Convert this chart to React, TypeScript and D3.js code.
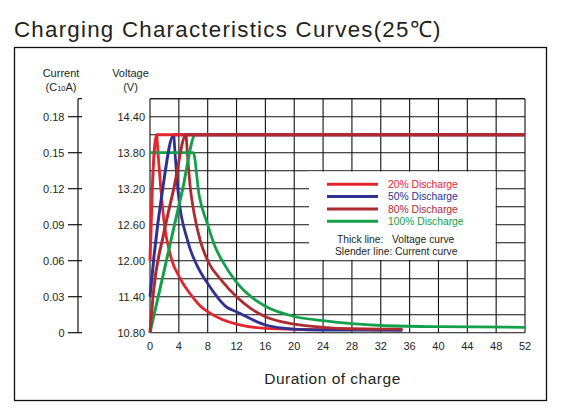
import React from "react";
import * as d3 from "d3";

const W = 561;
const H = 418;

// Tick values
const hourTicks = [0, 4, 8, 12, 16, 20, 24, 28, 32, 36, 40, 44, 48, 52];
const voltTicks = [10.8, 11.4, 12.0, 12.6, 13.2, 13.8, 14.4];
const currTicks = [0, 0.03, 0.06, 0.09, 0.12, 0.15, 0.18];
const voltGrid = d3.range(0, 14).map((i) => 10.8 + i * 0.3);

// Series labels / colours
const seriesNames = ["20% Discharge", "50% Discharge", "80% Discharge", "100% Discharge"];
const seriesColors = ["#e3262e", "#2e3192", "#ad2a31", "#13a04a"];

// Voltage curves [hour, volts]
const voltRed: [number, number][] = [[0, 12.0], [0.3, 13.15], [0.93, 14.1], [52, 14.1]];
const voltBlue: [number, number][] = [[0, 11.4], [0.55, 12.07], [1.7, 13.15], [3.3, 14.1], [52, 14.1]];
const voltDark: [number, number][] = [[0, 10.8], [0.5, 11.5], [1.9, 12.45], [3.3, 13.2], [5.0, 14.1], [52, 14.1]];
const voltGreen: [number, number][] = [[0, 10.8], [2.2, 11.96], [4.5, 13.18], [6.3, 14.1], [52, 14.1]];

// Current curves [hour, C10A]
const currRed: [number, number][] = [
  [0.93, 0.165], [1.5, 0.12], [2.0, 0.09], [2.9, 0.063], [4.2, 0.045], [6.0, 0.029],
  [7, 0.022], [8, 0.0175], [10, 0.011], [12, 0.0072], [16, 0.0036], [20, 0.0028], [28, 0.0025], [35, 0.0025],
];
const currBlue: [number, number][] = [
  [3.3, 0.165], [3.9, 0.117], [5.2, 0.077], [6.6, 0.055], [8, 0.041], [10.7, 0.021],
  [12, 0.0175], [16, 0.0064], [20, 0.003], [24, 0.0022], [35, 0.002],
];
const currDark: [number, number][] = [
  [5.0, 0.165], [5.6, 0.12], [6.1, 0.1], [7, 0.076], [8, 0.06], [10, 0.043], [12, 0.03],
  [14, 0.02], [16, 0.0133], [20, 0.0072], [24, 0.0045], [28, 0.0033], [32, 0.003], [35, 0.003],
];
const currGreen: [number, number][] = [
  [0, 0.15], [6.0, 0.15], [6.8, 0.115], [8, 0.09], [9, 0.072], [10, 0.06], [12, 0.042], [14, 0.03],
  [16, 0.022], [20, 0.0135], [24, 0.01], [28, 0.0075], [32, 0.006], [40, 0.005], [52, 0.0045],
];

const voltSeries = [voltGreen, voltBlue, voltRed, voltDark];
const voltColorIdx = [3, 1, 0, 2];
const currSeries = [currRed, currBlue, currDark, currGreen];
const currColorIdx = [0, 1, 2, 3];

const FONT = "'Liberation Sans', Arial, sans-serif";
const TXT = "#231f20";

export default function App() {
  const x = d3.scaleLinear().domain([0, 52]).range([150, 525]);
  const yV = d3.scaleLinear().domain([10.8, 14.7]).range([332.7, 98.7]);
  const yC = d3.scaleLinear().domain([0, 0.195]).range([332.7, 98.7]);

  const lineV = d3
    .line<[number, number]>()
    .x((d) => x(d[0]))
    .y((d) => yV(d[1]))
    .curve(d3.curveMonotoneX);
  const lineC = d3
    .line<[number, number]>()
    .x((d) => x(d[0]))
    .y((d) => yC(d[1]))
    .curve(d3.curveMonotoneX);

  const gridTop = yV(14.7);
  const gridBot = yV(10.8);
  const axisX = 78;

  return (
    <svg
      width={W}
      height={H}
      style={{ position: "absolute", left: 0, top: 0, background: "#fff" }}
      fontFamily={FONT}
    >
      <rect x={0} y={0} width={W} height={H} fill="#fff" />
      <text x={14} y={37} fontSize={22.3} fill={TXT} letterSpacing={1.25}>
        Charging Characteristics Curves(25℃)
      </text>
      <rect x={14.5} y={47.5} width={532} height={353} fill="none" stroke="#111" strokeWidth={1.3} />

      {/* axis headers */}
      <text x={61} y={76.5} fontSize={11} textAnchor="middle" fill={TXT}>Current</text>
      <text x={61} y={90.5} fontSize={11} textAnchor="middle" fill={TXT}>
        (C<tspan fontSize={7.5}>10</tspan>A)
      </text>
      <text x={130.5} y={76.5} fontSize={11} textAnchor="middle" fill={TXT}>Voltage</text>
      <text x={130.5} y={90.5} fontSize={11} textAnchor="middle" fill={TXT}>(V)</text>

      {/* current axis */}
      <line x1={axisX} x2={axisX} y1={gridTop} y2={gridBot} stroke="#111" strokeWidth={1.2} />
      <line x1={axisX} x2={82} y1={gridTop} y2={gridTop} stroke="#111" strokeWidth={1.2} />
      {currTicks.map((c) => (
        <g key={c}>
          <line x1={68} x2={82} y1={yC(c)} y2={yC(c)} stroke="#111" strokeWidth={1.2} />
          <text x={64.5} y={yC(c) + 4} fontSize={11} textAnchor="end" fill={TXT}>
            {c === 0 ? "0" : c.toFixed(2)}
          </text>
        </g>
      ))}

      {/* voltage labels */}
      {voltTicks.map((v) => (
        <text key={v} x={145} y={yV(v) + 4} fontSize={11} textAnchor="end" fill={TXT}>
          {v.toFixed(2)}
        </text>
      ))}

      {/* grid */}
      {voltGrid.map((v) => (
        <line key={"h" + v} x1={x(0)} x2={x(52)} y1={yV(v)} y2={yV(v)} stroke="#111" strokeWidth={1.1} />
      ))}
      <line x1={x(0)} x2={x(52)} y1={gridTop} y2={gridTop} stroke="#111" strokeWidth={1.1} />
      {hourTicks.map((h) => (
        <line key={"v" + h} x1={x(h)} x2={x(h)} y1={gridTop} y2={gridBot} stroke="#111" strokeWidth={1.1} />
      ))}

      {/* legend box */}
      <rect x={309} y={yV(13.5) + 0.8} width={x(48) - 309 - 0.6} height={yV(12.0) - yV(13.5) - 1.6} fill="#fff" />

      {/* x labels */}
      {hourTicks.map((h) => (
        <text key={"xl" + h} x={x(h)} y={349.5} fontSize={11} textAnchor="middle" fill={TXT}>
          {h}
        </text>
      ))}
      <text x={332.5} y={384} fontSize={15.5} textAnchor="middle" fill={TXT} letterSpacing={0.5}>
        Duration of charge
      </text>

      {/* current curves */}
      {currSeries.map((s, i) => (
        <path key={"c" + i} d={lineC(s) || ""} fill="none" stroke={seriesColors[currColorIdx[i]]} strokeWidth={2.8} />
      ))}
      {/* voltage curves */}
      {voltSeries.map((s, i) => (
        <path key={"v" + i} d={lineV(s) || ""} fill="none" stroke={seriesColors[voltColorIdx[i]]} strokeWidth={3} />
      ))}

      {/* legend */}
      {seriesNames.map((n, i) => (
        <g key={n}>
          <line x1={327} x2={378} y1={184.3 + i * 12.3} y2={184.3 + i * 12.3} stroke={seriesColors[i]} strokeWidth={3} />
          <text x={388} y={188 + i * 12.3} fontSize={10.3} fill={seriesColors[i]}>
            {n}
          </text>
        </g>
      ))}
      <text x={337} y={243.3} fontSize={10.3} fill={TXT} style={{ whiteSpace: "pre" }}>
        {"Thick line:   Voltage curve"}
      </text>
      <text x={335} y={255} fontSize={10.3} fill={TXT} style={{ whiteSpace: "pre" }}>
        {"Slender line: Current curve"}
      </text>
    </svg>
  );
}
